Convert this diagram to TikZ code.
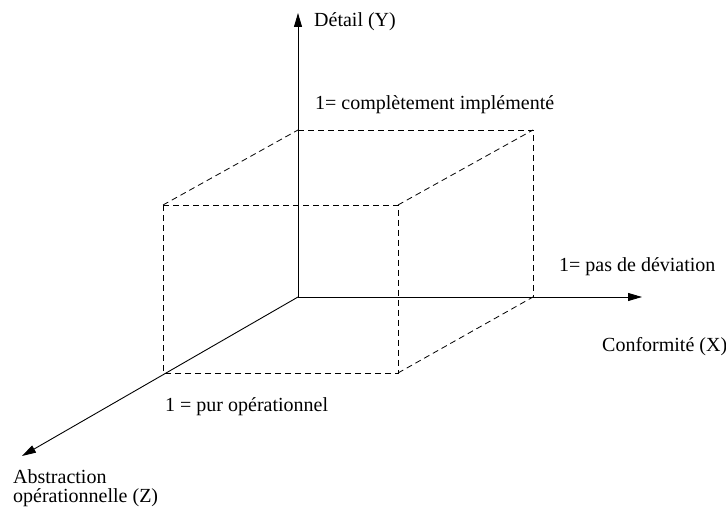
\documentclass[tikz,border=0pt]{standalone}
\usepackage{fontspec}
\setmainfont{Liberation Serif}
\usetikzlibrary{arrows.meta}
\begin{document}
\begin{tikzpicture}[x=1pt,y=-1pt,
  axis/.style={line width=0.9pt,-{Triangle[length=14pt,width=8pt]}},
  boxedge/.style={line width=0.8pt,dash pattern=on 6pt off 4pt},
  lbl/.style={anchor=west,inner sep=0pt,font=\fontsize{20}{20.5}\selectfont}]
\useasboundingbox (0,0) rectangle (726,510);
% axes
\coordinate (O) at (298,297);
\coordinate (Ytip) at (298,13);
\coordinate (Xtip) at (642,297);
\coordinate (Ztip) at (22,456);
% box corners
\coordinate (B1) at (298,130);
\coordinate (B2) at (533,130);
\coordinate (B3) at (533,297);
\coordinate (F1) at (163,205);
\coordinate (F2) at (398,205);
\coordinate (F3) at (398,373);
\coordinate (F4) at (163,373);
\draw[boxedge] (B1) -- (B2) -- (B3);
\draw[boxedge] (F1) -- (F2) -- (F3) -- (F4) -- cycle;
\draw[boxedge] (F1) -- (B1);
\draw[boxedge] (F2) -- (B2);
\draw[boxedge] (F3) -- (B3);
\draw[axis] (O) -- (Ytip);
\draw[axis] (O) -- (Xtip);
\draw[axis] (O) -- (Ztip);
% labels
\node[lbl] (ly) at (314,22) {Détail (Y)};
\node[lbl] (lc) at (315,105) {1= complètement implémenté};
\node[lbl] (lp) at (559,267) {1= pas de déviation};
\node[lbl] (lx) at (602,347) {Conformité (X)};
\node[lbl] (lo) at (165,407) {1 = pur opérationnel};
\node[lbl,anchor=north west,align=left] (lz) at (13,469) {Abstraction\\[-1pt]opérationnelle (Z)};
\end{tikzpicture}
\end{document}
